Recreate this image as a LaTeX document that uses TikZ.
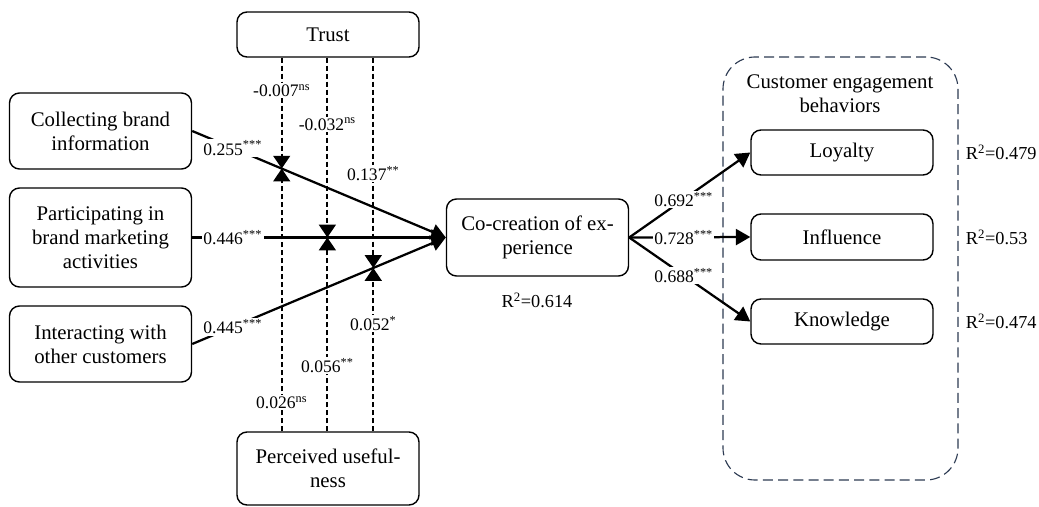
\documentclass[tikz,border=0pt]{standalone}
\usepackage{fontspec}
\setmainfont{Liberation Serif}
\usetikzlibrary{arrows.meta,calc}
\definecolor{groupblue}{RGB}{44,58,82}

\tikzset{
	construct/.style={draw,line width=1pt,rounded corners=2.5mm,align=center,minimum width=45.5mm,inner sep=2pt},
	coef/.style={fill=white,inner sep=1pt,font=\fontsize{12.5}{15}\selectfont},
	rsquare/.style={font=\fontsize{13}{15}\selectfont},
	effect/.style={line width=1.6pt,-{Triangle[length=3.6mm,width=4mm]}},
	moderate/.style={line width=1.4pt,dash pattern=on 1.25mm off 0.75mm,-{Triangle[length=3.2mm,width=4.2mm]}}
}

\begin{document}
\begin{tikzpicture}[x=0.25mm,y=-0.25mm,font=\fontsize{14.8}{17}\selectfont]
	\useasboundingbox (0,0) rectangle (1039,507);

	\begin{scope} % constructs
		\node[construct,minimum height=11.25mm] (trust) at (328,34.5) {Trust};
		\node[construct,minimum height=18.25mm] (useful) at (328,468.5) {Perceived useful-\\ness};

		\node[construct,minimum height=19mm] (collect) at (100.5,131) {Collecting brand\\information};
		\node[construct,minimum height=24.75mm] (particip) at (100.5,237.5) {Participating in\\brand marketing\\activities};
		\node[construct,minimum height=19mm] (interact) at (100.5,344) {Interacting with\\other customers};

		\node[construct,minimum height=19.25mm] (cocreate) at (537.5,237.5) {Co-creation of ex-\\perience};
		\node[rsquare] (r2cocreate) at (537,300) {R\textsuperscript{2}=0.614};
	\end{scope}

	\begin{scope} % engagement behaviors
		\node[draw=groupblue,line width=0.8pt,dash pattern=on 2.5mm off 1.3mm,rounded corners=8mm,minimum width=58.75mm,minimum height=105.75mm] (ceb) at (840.5,268.5) {};
		\node[align=center] (cebtitle) at (840,94) {Customer engagement\\behaviors};

		\node[construct,minimum height=11.25mm] (loyalty) at (842,152.5) {Loyalty};
		\node[construct,minimum height=11.5mm] (influence) at (842,237) {Influence};
		\node[construct,minimum height=11.25mm] (knowledge) at (842,321.5) {Knowledge};
	\end{scope}

	% effects on co-creation
	\foreach \src/\lab in {collect/0.255,particip/0.446,interact/0.445}
		\draw[effect] (\src.east) -- node[coef,pos=0.16] {\lab\textsuperscript{***}} (cocreate.west);

	% moderators
	\foreach \m/\src/\t/\tlab/\pt/\blab/\pb in {m1/collect/0.353/-0.007\textsuperscript{ns}/0.3/0.026\textsuperscript{ns}/0.11,m2/particip/0.533/-0.032\textsuperscript{ns}/0.37/0.056\textsuperscript{**}/0.34,m3/interact/0.714/0.137\textsuperscript{**}/0.55/0.052\textsuperscript{*}/0.66}
		{
			\coordinate (\m) at ($(\src.east)!\t!(cocreate.west)$);
			\draw[moderate] (trust.south -| \m) -- node[coef,pos=\pt] {\tlab} (\m);
			\draw[moderate] (useful.north -| \m) -- node[coef,pos=\pb] {\blab} (\m);
		}

	% effects on engagement
	\foreach \dst/\lab/\rsq in {loyalty/0.692/0.479,influence/0.728/0.53,knowledge/0.688/0.474}
		{
			\draw[effect] (cocreate.east) -- node[coef,pos=0.45] {\lab\textsuperscript{***}} (\dst.west);
			\node[rsquare,anchor=west] (r2\dst) at ([xshift=6.8mm]\dst.east) {R\textsuperscript{2}=\rsq};
		}
\end{tikzpicture}
\end{document}
